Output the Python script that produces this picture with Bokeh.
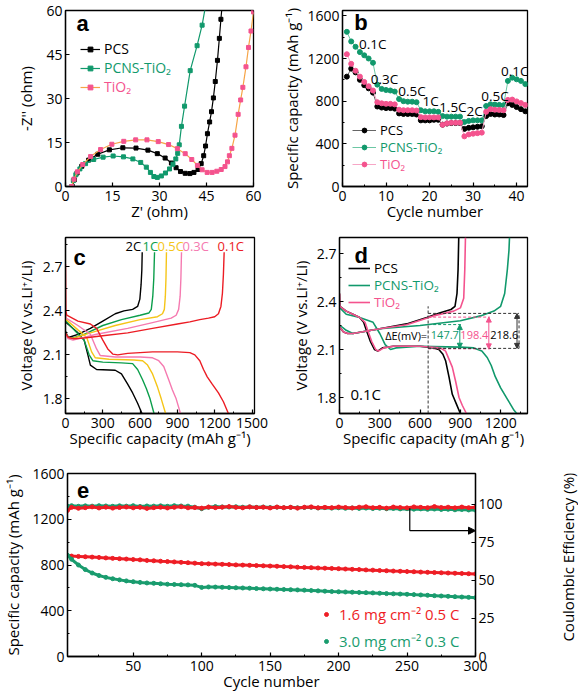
import math
from bokeh.plotting import figure
from bokeh.layouts import column, row
from bokeh.models import (FixedTicker, Legend, LegendItem, Label, Arrow, NormalHead,
                          LinearAxis, Range1d)
from bokeh.embed import file_html
from bokeh.resources import INLINE
from bokeh.core.properties import value

FONT = "Open Sans"
TICK_FS = "14px"
LAB_FS = "15px"

BLACK = "#000000"
GREEN = "#11996c"
PINK = "#f4538e"
ORANGE = "#f6a447"
RED = "#ec1c24"
PINK_C = "#f57ab0"
YELLOW = "#f5c518"
GREEN_C = "#0b9e4b"

# ---------------- (a) Nyquist ----------------
a_pcs_x = [2.2, 2.8, 3.7, 5.2, 7.4, 10.3, 14.0, 18.3, 22.5, 26.3, 29.3, 31.8, 33.8, 35.3, 36.7, 38.2, 39.7, 41.0,
           42.3, 43.3, 44.1, 44.7, 45.3, 46.0, 46.6, 47.2, 47.8, 48.5, 49.1, 49.6, 50.0]
a_pcs_y = [0.0, 2.3, 4.6, 6.9, 9.0, 11.0, 12.5, 13.2, 13.1, 12.4, 11.2, 9.7, 8.0, 6.4, 5.1, 4.5, 4.4, 4.8,
           5.8, 7.8, 10.5, 13.8, 18.0, 22.0, 25.5, 30.2, 35.8, 43.0, 50.5, 57.0, 62.0]
a_pcns_x = [2.0, 2.5, 3.3, 4.6, 6.4, 9.0, 12.0, 15.2, 18.5, 21.5, 24.0, 25.8, 27.1, 28.2, 29.3, 30.6, 31.9, 33.2,
            34.3, 35.2, 35.8, 36.3, 37.0, 38.0, 39.8, 42.0, 43.6, 44.6]
a_pcns_y = [0.0, 2.0, 4.0, 6.0, 7.8, 9.2, 10.0, 10.4, 10.1, 9.4, 8.2, 6.6, 4.8, 3.4, 3.1, 3.6, 4.6, 6.0,
            7.6, 9.4, 11.3, 14.2, 20.5, 27.4, 39.5, 48.0, 55.0, 61.0]
a_tio2_x = [2.0, 2.7, 3.8, 5.5, 8.0, 11.2, 14.8, 18.6, 22.4, 26.0, 29.6, 32.9, 35.7, 38.2, 40.3, 42.1, 43.6, 45.2,
            46.8, 48.3, 49.7, 50.9, 51.7, 52.3, 53.1, 54.1, 55.1, 55.9, 56.6, 57.6, 58.4, 59.2, 60.0]
a_tio2_y = [0.0, 2.5, 5.0, 7.5, 10.2, 12.6, 14.4, 15.4, 15.9, 15.9, 15.3, 14.3, 12.9, 11.2, 9.2, 7.2, 5.7, 4.8,
            4.8, 5.2, 5.8, 6.8, 8.4, 10.5, 13.0, 17.5, 24.6, 29.5, 33.8, 40.8, 47.4, 53.0, 59.5]
a_ticks = [0, 15, 30, 45, 60]

# ---------------- (b) rate ----------------
b_cycles = [1, 2, 3, 4, 5, 6, 7, 8, 9, 10, 11, 12, 13, 14, 15, 16, 17, 18, 19, 20, 21,
            22, 23, 24, 25, 26, 27, 28, 29, 30, 31, 32, 33, 34, 35, 36, 37, 38, 39, 40, 41, 42]
b_pcs = [1030, 1105, 1070, 1000, 950, 920, 880, 750, 740, 735, 735, 730, 685, 680, 680, 680, 675, 620, 620, 620, 625,
         625, 580, 590, 595, 595, 595, 540, 550, 555, 560, 565, 660, 680, 675, 675, 670, 780, 765, 745, 725, 705]
b_pcns = [1450, 1360, 1310, 1260, 1230, 1200, 1160, 955, 915, 905, 900, 890, 820, 800, 795, 795, 790, 715, 705, 705, 705,
          700, 660, 655, 655, 655, 655, 605, 615, 620, 620, 620, 755, 770, 768, 765, 762, 990, 1020, 1005, 990, 960]
b_tio2 = [1240, 1150, 1085, 1030, 980, 940, 900, 790, 780, 775, 775, 770, 720, 715, 715, 715, 712, 650, 648, 648, 648,
          648, 578, 592, 598, 598, 598, 470, 488, 495, 500, 505, 700, 725, 720, 718, 715, 812, 815, 798, 782, 765]
b_rate_text = ["0.1C", "0.3C", "0.5C", "1C", "1.5C", "2C", "0.5C", "0.1C"]
b_rate_x = [3.8, 6.5, 12.8, 18.4, 22.2, 28.5, 31.9, 36.4]
b_rate_y = [1337, 1005, 892, 797, 750, 711, 845, 1080]

# ---------------- (c) PCNS-TiO2 at various rates ----------------
c_red_dis_x = [0, 3, 10, 100, 200, 250, 300, 340, 380, 420, 500, 700, 900, 1000, 1040, 1080, 1110, 1140, 1180, 1230, 1270, 1310]
c_red_dis_y = [2.72, 2.40, 2.37, 2.33, 2.31, 2.28, 2.20, 2.14, 2.105, 2.10, 2.11, 2.12, 2.12, 2.115, 2.10, 2.06, 2.00, 1.95, 1.90, 1.84, 1.78, 1.70]
c_red_chg_x = [0, 20, 60, 150, 300, 500, 700, 900, 1000, 1080, 1150, 1200, 1230, 1250, 1262, 1270, 1276]
c_red_chg_y = [2.25, 2.22, 2.21, 2.215, 2.23, 2.25, 2.28, 2.31, 2.325, 2.34, 2.35, 2.36, 2.38, 2.43, 2.52, 2.65, 2.80]
c_pink_dis_x = [0, 5, 100, 200, 250, 280, 400, 600, 700, 750, 790, 830, 860, 890, 925]
c_pink_dis_y = [2.40, 2.35, 2.30, 2.24, 2.14, 2.095, 2.085, 2.085, 2.08, 2.06, 2.02, 1.93, 1.86, 1.80, 1.70]
c_pink_chg_x = [0, 20, 60, 250, 500, 700, 850, 890, 910, 922, 928, 933]
c_pink_chg_y = [2.24, 2.21, 2.20, 2.24, 2.28, 2.32, 2.35, 2.37, 2.41, 2.50, 2.62, 2.80]
c_yel_dis_x = [0, 5, 100, 170, 210, 240, 350, 550, 620, 660, 700, 740, 770, 805]
c_yel_dis_y = [2.38, 2.34, 2.27, 2.22, 2.12, 2.08, 2.07, 2.065, 2.06, 2.03, 1.97, 1.88, 1.80, 1.70]
c_yel_chg_x = [0, 20, 50, 200, 400, 600, 740, 780, 795, 803, 808, 812]
c_yel_chg_y = [2.24, 2.22, 2.21, 2.25, 2.30, 2.34, 2.36, 2.38, 2.41, 2.50, 2.62, 2.80]
c_grn_dis_x = [0, 5, 80, 150, 190, 220, 300, 450, 540, 580, 620, 650, 680, 712]
c_grn_dis_y = [2.37, 2.33, 2.26, 2.20, 2.10, 2.06, 2.05, 2.045, 2.04, 2.00, 1.93, 1.87, 1.80, 1.70]
c_grn_chg_x = [0, 20, 40, 150, 300, 450, 600, 670, 690, 702, 710, 716]
c_grn_chg_y = [2.25, 2.22, 2.21, 2.24, 2.30, 2.34, 2.37, 2.385, 2.41, 2.50, 2.62, 2.80]
c_blk_dis_x = [0, 5, 100, 150, 180, 200, 250, 400, 450, 500, 540, 580, 615]
c_blk_dis_y = [2.36, 2.32, 2.25, 2.20, 2.10, 2.03, 2.00, 1.995, 1.97, 1.90, 1.84, 1.77, 1.70]
c_blk_chg_x = [0, 15, 30, 100, 200, 300, 400, 470, 540, 580, 598, 608, 614, 617]
c_blk_chg_y = [2.26, 2.23, 2.22, 2.24, 2.28, 2.33, 2.38, 2.40, 2.41, 2.43, 2.48, 2.58, 2.68, 2.80]
c_rate_text = ["2C", "1C", "0.5C", "0.3C", "0.1C"]
c_rate_x = [483, 619, 740, 941, 1223]
c_xticks = [0, 300, 600, 900, 1200, 1500]
v_ticks = [1.8, 2.1, 2.4, 2.7]

# ---------------- (d) 0.1C profiles ----------------
d_pcs_dis_x = [0, 3, 50, 100, 150, 180, 200, 230, 260, 285, 320, 400, 600, 700, 740, 770, 790, 815, 840, 870, 900]
d_pcs_dis_y = [2.45, 2.37, 2.34, 2.32, 2.30, 2.27, 2.22, 2.15, 2.10, 2.09, 2.11, 2.12, 2.12, 2.11, 2.10, 2.07, 2.03, 1.93, 1.82, 1.76, 1.70]
d_pcs_chg_x = [0, 30, 60, 100, 300, 500, 650, 750, 830, 860, 875, 883, 888]
d_pcs_chg_y = [2.24, 2.21, 2.20, 2.20, 2.23, 2.26, 2.30, 2.33, 2.35, 2.37, 2.45, 2.60, 2.80]
d_tio2_dis_x = [0, 3, 50, 100, 150, 190, 210, 240, 270, 290, 330, 400, 600, 750, 790, 815, 840, 865, 890, 915, 945]
d_tio2_dis_y = [2.45, 2.37, 2.34, 2.32, 2.30, 2.27, 2.22, 2.15, 2.10, 2.09, 2.11, 2.12, 2.12, 2.11, 2.09, 2.04, 1.99, 1.90, 1.80, 1.75, 1.70]
d_tio2_chg_x = [0, 30, 60, 100, 300, 500, 700, 850, 900, 925, 933, 938]
d_tio2_chg_y = [2.24, 2.21, 2.20, 2.20, 2.23, 2.255, 2.31, 2.34, 2.36, 2.42, 2.60, 2.80]
d_pcns_dis_x = [0, 3, 50, 150, 250, 300, 340, 380, 420, 600, 900, 1000, 1060, 1100, 1130, 1160, 1200, 1250, 1300, 1320]
d_pcns_dis_y = [2.40, 2.36, 2.32, 2.30, 2.27, 2.20, 2.13, 2.10, 2.11, 2.12, 2.115, 2.11, 2.09, 2.05, 2.00, 1.93, 1.86, 1.79, 1.72, 1.70]
d_pcns_chg_x = [0, 20, 50, 100, 300, 600, 900, 1050, 1150, 1200, 1230, 1250, 1262, 1266]
d_pcns_chg_y = [2.25, 2.24, 2.22, 2.20, 2.23, 2.25, 2.28, 2.31, 2.34, 2.37, 2.45, 2.60, 2.72, 2.80]
d_xticks = [0, 300, 600, 900, 1200]
# overpotential annotation: PCNS-TiO2, TiO2, PCS
d_dE = [147.7, 198.4, 218.6]
d_dE_low = [2.108, 2.104, 2.107]
d_dE_arrow_x = [896, 1112, 1322]
d_dE_ref_x = 660

# ---------------- (e) long cycling ----------------
e_cycles = [2, 5, 10, 15, 20, 25, 30, 35, 40, 45, 50, 55, 60, 65, 70, 75, 80, 85, 90, 95, 100,
            105, 110, 115, 120, 125, 130, 135, 140, 145, 150, 155, 160, 165, 170, 175, 180, 185, 190, 195, 200,
            205, 210, 215, 220, 225, 230, 235, 240, 245, 250, 255, 260, 265, 270, 275, 280, 285, 290, 295, 300]
e_red_cap = [882, 878, 875, 872, 869, 866, 862, 858, 855, 852, 848, 845, 840, 837, 833, 830, 827, 823, 820, 816,
             812, 810, 808, 806, 804, 801, 799, 797, 795, 793, 791, 789, 786, 784, 781, 779, 777, 774, 772, 770,
             768, 765, 762, 760, 757, 755, 752, 750, 747, 745, 743, 741, 738, 736, 734, 732, 730, 728, 726, 724, 722]
e_grn_cap = [885, 850, 800, 760, 730, 708, 692, 680, 670, 661, 654, 648, 643, 640, 636, 632, 630, 628, 626, 622,
             604, 608, 607, 605, 603, 601, 599, 597, 594, 592, 590, 588, 586, 584, 582, 580, 577, 574, 571, 568,
             566, 564, 562, 560, 558, 556, 553, 550, 548, 546, 544, 541, 538, 535, 532, 529, 526, 523, 520, 517, 514]
e_red_ce = [95.8, 97.8, 97.2, 97.6, 98.1, 97.4, 97.9, 97.3, 97.7, 98.0, 97.5, 97.8, 97.1, 97.6, 97.9, 97.4, 97.8, 98.2, 97.5, 97.7,
            97.3, 98.0, 97.6, 97.9, 98.3, 97.8, 97.5, 98.1, 97.7, 97.9, 97.4, 98.0, 97.6, 97.8, 97.3, 97.9, 98.1, 97.5, 97.8, 97.6,
            98.0, 97.7, 97.4, 97.9, 98.2, 97.6, 97.8, 97.3, 98.0, 97.7, 97.5, 98.1, 97.8, 97.6, 98.3, 97.7, 97.9, 97.5, 98.0, 97.6, 97.8]
e_grn_ce = [98.6, 98.9, 98.5, 98.8, 98.6, 98.9, 98.7, 98.5, 98.8, 98.6, 98.9, 98.4, 98.7, 98.6, 98.8, 98.5, 98.9, 98.7, 98.6, 97.9,
            96.9, 97.9, 98.3, 98.1, 98.0, 98.2, 97.9, 98.1, 97.8, 98.0, 97.7, 97.9, 97.6, 97.8, 97.5, 97.7, 97.8, 97.4, 97.6, 97.3,
            97.5, 97.2, 97.4, 97.1, 97.3, 97.0, 97.2, 96.9, 97.1, 96.8, 96.9, 96.6, 96.8, 96.5, 96.7, 96.4, 96.5, 96.2, 96.4, 96.1, 96.0]
e_xticks = [50, 100, 150, 200, 250, 300]
e_yticks = [0, 400, 800, 1200, 1600]
e_ce_ticks = [0, 25, 50, 75, 100]
e_arrow = [252, 97.2, 82.5]


def make_fig(width, height, xr, yr, borders):
    p = figure(width=width, height=height, x_range=Range1d(*xr), y_range=Range1d(*yr),
               output_backend="svg", toolbar_location=None,
               min_border_left=borders[0], min_border_right=borders[1],
               min_border_top=borders[2], min_border_bottom=borders[3])
    p.xgrid.visible = False
    p.ygrid.visible = False
    p.outline_line_color = "black"
    p.outline_line_width = 1.3
    p.outline_line_alpha = 1.0
    p.background_fill_color = "white"
    p.border_fill_color = "white"
    return p


def style_axis(ax, ticks, minor, label, standoff, lab_std=4):
    ax.ticker = FixedTicker(ticks=ticks, minor_ticks=minor)
    ax.axis_label = label
    ax.axis_label_text_font = FONT
    ax.axis_label_text_font_size = LAB_FS
    ax.axis_label_text_font_style = "normal"
    ax.axis_label_text_color = "black"
    ax.axis_label_standoff = standoff
    ax.major_label_text_font = FONT
    ax.major_label_text_font_size = TICK_FS
    ax.major_label_text_color = "black"
    ax.major_label_standoff = lab_std
    ax.major_tick_in = 4
    ax.major_tick_out = 0
    ax.minor_tick_in = 2
    ax.minor_tick_out = 0
    ax.axis_line_width = 1.3
    ax.major_tick_line_width = 1.2
    ax.minor_tick_line_width = 1.0


def add_legend(p, renderers, label, color, loc, gw=20, fs="15px", standoff=4):
    lg = Legend(items=[LegendItem(label=value(label), renderers=renderers)], location=loc,
                label_text_color=color, label_text_font=FONT, label_text_font_size=fs,
                glyph_width=gw, glyph_height=12, label_height=12, padding=0, margin=0, spacing=0,
                label_standoff=standoff, border_line_alpha=0, background_fill_alpha=0)
    p.add_layout(lg)


def letter(p, txt, x, y):
    p.add_layout(Label(x=x, y=y, text=txt, text_font="Liberation Sans", text_font_style="bold",
                       text_font_size="22px", text_baseline="middle", text_color="black"))


# ================= figure a =================
pa = make_fig(279, 227, (0, 60), (0, 60), (65, 26, 10, 41))
style_axis(pa.xaxis[0], a_ticks, [], "Z' (ohm)", -3)
style_axis(pa.yaxis[0], a_ticks, [], "-Z'' (ohm)", 7, 3)
ra1 = pa.line(a_pcs_x, a_pcs_y, line_color=BLACK, line_width=1.2)
ra2 = pa.scatter(a_pcs_x, a_pcs_y, marker="square", size=4, color=BLACK)
rb1 = pa.line(a_pcns_x, a_pcns_y, line_color=GREEN, line_width=1.2)
rb2 = pa.scatter(a_pcns_x, a_pcns_y, marker="square", size=4, color=GREEN)
rc1 = pa.line(a_tio2_x, a_tio2_y, line_color=ORANGE, line_width=1.2)
rc2 = pa.scatter(a_tio2_x, a_tio2_y, marker="square", size=4, color=PINK)
add_legend(pa, [ra1, ra2], "PCS", BLACK, (15, 128), fs="14px")
add_legend(pa, [rb1, rb2], "PCNS-TiO₂", GREEN, (15, 109), fs="14px")
add_legend(pa, [rc1, rc2], "TiO₂", PINK, (15, 90), fs="14px")
letter(pa, "a", 3.5, 55.6)

# ================= figure b =================
pb = make_fig(294, 227, (0, 42.5), (0, 1650), (59, 46, 8, 41))
style_axis(pb.xaxis[0], [0, 10, 20, 30, 40], [5, 15, 25, 35], "Cycle number", -3)
style_axis(pb.yaxis[0], [0, 400, 800, 1200, 1600], [200, 600, 1000, 1400], "Specific capacity (mAh g⁻¹)", 2, 3)
l1 = pb.line(b_cycles, b_pcs, line_color="#666666", line_width=1)
s1 = pb.scatter(b_cycles, b_pcs, size=5, color=BLACK)
l2 = pb.line(b_cycles, b_pcns, line_color="#6cc7a4", line_width=1)
s2 = pb.scatter(b_cycles, b_pcns, size=5, color=GREEN)
l3 = pb.line(b_cycles, b_tio2, line_color="#f7a6c6", line_width=1)
s3 = pb.scatter(b_cycles, b_tio2, size=5, color=PINK)
add_legend(pb, [l1, s1], "PCS", BLACK, (10, 47), gw=24, fs="13px")
add_legend(pb, [l2, s2], "PCNS-TiO₂", GREEN, (10, 30), gw=24, fs="13px")
add_legend(pb, [l3, s3], "TiO₂", PINK, (10, 13), gw=24, fs="13px")
for t, x, y in zip(b_rate_text, b_rate_x, b_rate_y):
    pb.add_layout(Label(x=x, y=y, text=t, text_font=FONT, text_font_size="13.5px",
                        text_baseline="middle", text_color="black"))
letter(pb, "b", 2.7, 1535)

# ================= figure c =================
pc = make_fig(279, 227, (0, 1520), (1.7, 2.9), (65, 25, 8, 41))
style_axis(pc.xaxis[0], c_xticks, [150, 450, 750, 1050, 1350], "Specific capacity (mAh g⁻¹)", -3)
style_axis(pc.yaxis[0], v_ticks, [1.95, 2.25, 2.55, 2.85], "Voltage (V vs.Li⁺/Li)", 4, 3)
c_curves = [
    (c_blk_dis_x, c_blk_dis_y, BLACK), (c_blk_chg_x, c_blk_chg_y, BLACK),
    (c_grn_dis_x, c_grn_dis_y, GREEN_C), (c_grn_chg_x, c_grn_chg_y, GREEN_C),
    (c_yel_dis_x, c_yel_dis_y, YELLOW), (c_yel_chg_x, c_yel_chg_y, YELLOW),
    (c_pink_dis_x, c_pink_dis_y, PINK_C), (c_pink_chg_x, c_pink_chg_y, PINK_C),
    (c_red_dis_x, c_red_dis_y, RED), (c_red_chg_x, c_red_chg_y, RED),
]
for xs, ys, col in c_curves:
    pc.line(xs, ys, line_color=col, line_width=1.4)
c_cols = [BLACK, GREEN_C, YELLOW, PINK_C, RED]
for t, x, col in zip(c_rate_text, c_rate_x, c_cols):
    pc.add_layout(Label(x=x, y=2.84, text=t, text_font=FONT, text_font_size="13px",
                        text_baseline="middle", text_color=col))
letter(pc, "c", 64, 2.765)

# ================= figure d =================
pd_ = make_fig(294, 227, (0, 1400), (1.7, 2.8), (60, 46, 10, 41))
style_axis(pd_.xaxis[0], d_xticks, [150, 450, 750, 1050, 1350], "Specific capacity (mAh g⁻¹)", -3)
style_axis(pd_.yaxis[0], v_ticks, [1.95, 2.25, 2.55], "Voltage (V vs.Li⁺/Li)", 3, 3)
dl1 = pd_.line(d_pcs_dis_x, d_pcs_dis_y, line_color=BLACK, line_width=1.6)
pd_.line(d_pcs_chg_x, d_pcs_chg_y, line_color=BLACK, line_width=1.6)
dl2 = pd_.line(d_pcns_dis_x, d_pcns_dis_y, line_color=GREEN, line_width=1.6)
pd_.line(d_pcns_chg_x, d_pcns_chg_y, line_color=GREEN, line_width=1.6)
dl3 = pd_.line(d_tio2_dis_x, d_tio2_dis_y, line_color=PINK, line_width=1.6)
pd_.line(d_tio2_chg_x, d_tio2_chg_y, line_color=PINK, line_width=1.6)
add_legend(pd_, [dl1], "PCS", BLACK, (9, 136), gw=22, fs="13.5px")
add_legend(pd_, [dl2], "PCNS-TiO₂", GREEN, (9, 119), gw=22, fs="13.5px")
add_legend(pd_, [dl3], "TiO₂", PINK, (9, 102), gw=22, fs="13.5px")
# overpotential annotation
d_cols = [GREEN, PINK, "#333333"]
d_top = [lo + dE / 1000.0 for lo, dE in zip(d_dE_low, d_dE)]
pd_.segment(x0=[d_dE_ref_x], y0=[1.7], x1=[d_dE_ref_x], y1=[2.37], line_color="#333333",
            line_dash="3 2", line_width=1)
for ax_, lo, hi, col in zip(d_dE_arrow_x, d_dE_low, d_top, d_cols):
    xe = ax_ + 15 if col == "#333333" else ax_ + 8
    pd_.segment(x0=[d_dE_ref_x, d_dE_ref_x], y0=[hi, lo], x1=[xe, xe], y1=[hi, lo],
                line_color=col, line_dash="3 2", line_width=1)
    pd_.add_layout(Arrow(start=NormalHead(size=5, fill_color=col, line_color=col),
                         end=NormalHead(size=5, fill_color=col, line_color=col),
                         x_start=ax_, y_start=lo, x_end=ax_, y_end=hi,
                         line_color=col, line_width=1))
pd_.segment(x0=[d_dE_arrow_x[2] + 15], y0=[d_dE_low[2]], x1=[d_dE_arrow_x[2] + 15], y1=[d_top[2]],
            line_color="#333333", line_dash="3 2", line_width=1)
d_txt = ["ΔE(mV)=", "%.1f" % d_dE[0], "%.1f" % d_dE[1], "%.1f" % d_dE[2]]
d_txt_x = [340, 680, 900, 1122]
d_txt_c = [BLACK, GREEN, PINK, BLACK]
for t, x, col in zip(d_txt, d_txt_x, d_txt_c):
    pd_.add_layout(Label(x=x, y=2.19, text=t, text_font=FONT, text_font_size="11px",
                         text_baseline="middle", text_color=col))
pd_.add_layout(Label(x=82, y=1.825, text="0.1C", text_font=FONT, text_font_size="15px",
                     text_baseline="middle", text_color="black"))
letter(pd_, "d", 112, 2.69)

# ================= figure e =================
pe = make_fig(556, 242, (2, 300), (0, 1600), (58, 81, 19, 40))
pe.extra_y_ranges = {"ce": Range1d(0, 120)}
style_axis(pe.xaxis[0], e_xticks, [25, 75, 125, 175, 225, 275], "Cycle number", -3)
style_axis(pe.yaxis[0], e_yticks, [200, 600, 1000, 1400], "Specific capacity (mAh g⁻¹)", 6, 3)
ax_r = LinearAxis(y_range_name="ce")
style_axis(ax_r, e_ce_ticks, [], None, 0, 3)
pe.add_layout(ax_r, "right")
E_RED = "#ee1d25"
E_GRN = "#199c6e"
pe.line(e_cycles, e_grn_ce, y_range_name="ce", line_color=E_GRN, line_width=3)
pe.scatter(e_cycles, e_grn_ce, y_range_name="ce", size=4, color=E_GRN)
pe.line(e_cycles, e_red_ce, y_range_name="ce", line_color=E_RED, line_width=3)
pe.scatter(e_cycles, e_red_ce, y_range_name="ce", size=4, color=E_RED)
pe.line(e_cycles, e_red_cap, line_color=E_RED, line_width=3)
er = pe.scatter(e_cycles, e_red_cap, size=4, color=E_RED)
pe.line(e_cycles, e_grn_cap, line_color=E_GRN, line_width=3)
eg = pe.scatter(e_cycles, e_grn_cap, size=4, color=E_GRN)
pe.add_layout(Arrow(end=None, x_start=e_arrow[0], y_start=e_arrow[1], x_end=e_arrow[0], y_end=e_arrow[2],
                    y_range_name="ce", line_color="black", line_width=1.2))
pe.add_layout(Arrow(end=NormalHead(size=7, fill_color="black", line_color="black"),
                    x_start=e_arrow[0], y_start=e_arrow[2], x_end=300, y_end=e_arrow[2],
                    y_range_name="ce", line_color="black", line_width=1.2))
add_legend(pe, [er], "1.6 mg cm⁻² 0.5 C", E_RED, (254, 32), gw=10, fs="15px", standoff=8)
add_legend(pe, [eg], "3.0 mg cm⁻² 0.3 C", E_GRN, (254, 5), gw=10, fs="15px", standoff=8)
letter(pe, "e", 9, 1452)

# narrow strip holding the right-axis title (reads bottom-to-top)
pt = figure(width=22, height=242, x_range=Range1d(0, 1), y_range=Range1d(0, 1),
            output_backend="svg", toolbar_location=None,
            min_border_left=0, min_border_right=0, min_border_top=0, min_border_bottom=0)
pt.axis.visible = False
pt.xgrid.visible = False
pt.ygrid.visible = False
pt.outline_line_color = None
pt.border_fill_color = "white"
pt.add_layout(Label(x=0.5, y=0.5 + (40 - 19) / 2 / 242, text="Coulombic Efficiency (%)", angle=math.pi / 2,
                    text_align="center", text_baseline="middle",
                    text_font=FONT, text_font_size=LAB_FS, text_color="black"))

layout = column(row(pa, pb), row(pc, pd_), row(pe, pt))
open("out.html", "w").write(file_html(layout, INLINE))
